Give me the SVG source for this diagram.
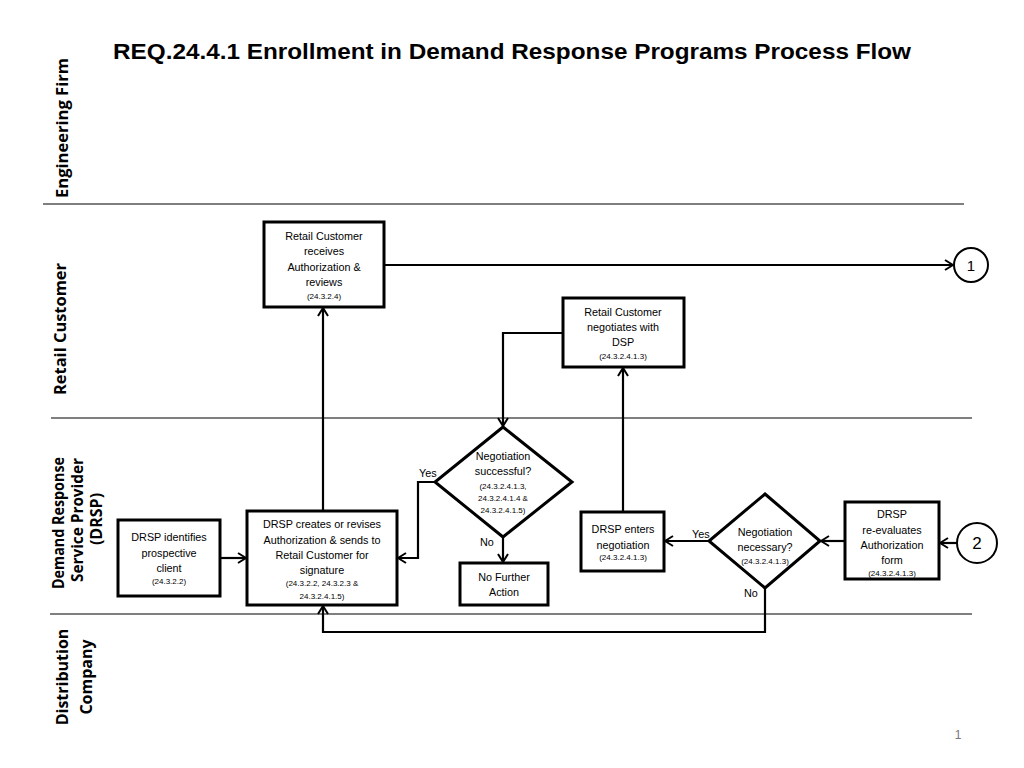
<svg xmlns="http://www.w3.org/2000/svg" width="1024" height="768" viewBox="0 0 1024 768">
<defs>
<style>
.box{fill:#fff;stroke:#000;stroke-width:3}
.lane{stroke:#555;stroke-width:1.3}
.c{fill:none;stroke:#000;stroke-width:2.2;marker-end:url(#ah)}
.t{font-family:"Liberation Sans",Arial,sans-serif;font-size:10.8px;text-anchor:middle;fill:#000}
.s{font-family:"Liberation Sans",Arial,sans-serif;font-size:8px;text-anchor:middle;fill:#000}
.lbl{font-family:"Liberation Sans",Arial,sans-serif;font-size:10.8px;fill:#000}
.ln{font-family:"Open Sans","Liberation Sans",sans-serif;font-size:16px;font-weight:bold;text-anchor:middle;fill:#000}
</style>
<marker id="ah" viewBox="0 0 12 12" refX="11" refY="6" markerWidth="12" markerHeight="12" markerUnits="userSpaceOnUse" orient="auto">
<polyline points="3,1 11,6 3,11" fill="none" stroke="#000" stroke-width="2"/>
</marker>
</defs>
<rect width="1024" height="768" fill="#fff"/>
<text x="512" y="59" font-family="Liberation Sans,Arial,sans-serif" font-size="22" font-weight="bold" text-anchor="middle" textLength="798" lengthAdjust="spacingAndGlyphs">REQ.24.4.1 Enrollment in Demand Response Programs Process Flow</text>
<g id="lanes">
<line class="lane" x1="43" y1="204" x2="964" y2="204"/>
<line class="lane" x1="51" y1="418" x2="972" y2="418"/>
<line class="lane" x1="50" y1="614" x2="972" y2="614"/>
<text class="ln" transform="translate(68,128) rotate(-90)" textLength="140" lengthAdjust="spacingAndGlyphs">Engineering Firm</text>
<text class="ln" transform="translate(66,329) rotate(-90)" textLength="132" lengthAdjust="spacingAndGlyphs">Retail Customer</text>
<text class="ln" transform="translate(64,523) rotate(-90)" textLength="132" lengthAdjust="spacingAndGlyphs">Demand Response</text>
<text class="ln" transform="translate(83,520) rotate(-90)" textLength="124" lengthAdjust="spacingAndGlyphs">Service Provider</text>
<text class="ln" transform="translate(102,519) rotate(-90)">(DRSP)</text>
<text class="ln" transform="translate(68,677) rotate(-90)">Distribution</text>
<text class="ln" transform="translate(92,677) rotate(-90)">Company</text>
</g>
<g id="connectors">
<path class="c" d="M323,511 V308"/>
<path class="c" d="M384,265 H953"/>
<path class="c" d="M563,333 H503 V426"/>
<path class="c" d="M435,482 H418 V558 H398"/>
<path class="c" d="M503,537 V562"/>
<path class="c" d="M220,558 H246"/>
<path class="c" d="M623,512 V368"/>
<path class="c" d="M709,541 H665"/>
<path class="c" d="M845,541 H821"/>
<path class="c" d="M957,543 H940"/>
<path class="c" d="M765,588 V632 H323 V606"/>
<text class="lbl" x="419" y="477">Yes</text>
<text class="lbl" x="480" y="546">No</text>
<text class="lbl" x="692" y="538">Yes</text>
<text class="lbl" x="744" y="597">No</text>
</g>
<g id="n_rc_receives">
<rect class="box" x="264" y="222" width="120" height="85"/>
<text class="t" x="324" y="240">Retail Customer</text>
<text class="t" x="324" y="255">receives</text>
<text class="t" x="324" y="271">Authorization &amp;</text>
<text class="t" x="324" y="286">reviews</text>
<text class="s" x="324" y="299">(24.3.2.4)</text>
</g>
<g id="n_rc_negotiates">
<rect class="box" x="563" y="298" width="121" height="69"/>
<text class="t" x="623" y="316">Retail Customer</text>
<text class="t" x="623" y="331">negotiates with</text>
<text class="t" x="623" y="346">DSP</text>
<text class="s" x="623" y="359">(24.3.2.4.1.3)</text>
</g>
<g id="n_neg_success">
<polygon class="box" points="503,427 572,482 503,537 435,482"/>
<text class="t" x="503" y="460">Negotiation</text>
<text class="t" x="503" y="475">successful?</text>
<text class="s" x="503" y="489">(24.3.2.4.1.3,</text>
<text class="s" x="503" y="501">24.3.2.4.1.4 &amp;</text>
<text class="s" x="503" y="513">24.3.2.4.1.5)</text>
</g>
<g id="n_no_further">
<rect class="box" x="460" y="563" width="88" height="42"/>
<text class="t" x="504" y="581">No Further</text>
<text class="t" x="504" y="596">Action</text>
</g>
<g id="n_drsp_identifies">
<rect class="box" x="118" y="520" width="102" height="76"/>
<text class="t" x="169" y="541">DRSP identifies</text>
<text class="t" x="169" y="557">prospective</text>
<text class="t" x="169" y="572">client</text>
<text class="s" x="169" y="584">(24.3.2.2)</text>
</g>
<g id="n_drsp_creates">
<rect class="box" x="247" y="511" width="150" height="94"/>
<text class="t" x="322" y="528">DRSP creates or revises</text>
<text class="t" x="322" y="544">Authorization &amp; sends to</text>
<text class="t" x="322" y="559">Retail Customer for</text>
<text class="t" x="322" y="574">signature</text>
<text class="s" x="322" y="586">(24.3.2.2, 24.3.2.3 &amp;</text>
<text class="s" x="322" y="599">24.3.2.4.1.5)</text>
</g>
<g id="n_drsp_enters">
<rect class="box" x="581" y="512" width="83" height="59"/>
<text class="t" x="623" y="533">DRSP enters</text>
<text class="t" x="623" y="549">negotiation</text>
<text class="s" x="623" y="560">(24.3.2.4.1.3)</text>
</g>
<g id="n_neg_necessary">
<polygon class="box" points="765,494 820,541 765,588 709,541"/>
<text class="t" x="765" y="536">Negotiation</text>
<text class="t" x="765" y="551">necessary?</text>
<text class="s" x="765" y="564">(24.3.2.4.1.3)</text>
</g>
<g id="n_drsp_reeval">
<rect class="box" x="845" y="502" width="94" height="77"/>
<text class="t" x="892" y="518">DRSP</text>
<text class="t" x="892" y="534">re-evaluates</text>
<text class="t" x="892" y="549">Authorization</text>
<text class="t" x="892" y="564">form</text>
<text class="s" x="892" y="576">(24.3.2.4.1.3)</text>
</g>
<g id="n_c1">
<circle cx="971" cy="265" r="17" fill="#fff" stroke="#000" stroke-width="2"/>
<text x="971" y="271" font-family="Liberation Sans,Arial,sans-serif" font-size="15" text-anchor="middle">1</text>
</g>
<g id="n_c2">
<circle cx="977" cy="543" r="20" fill="#fff" stroke="#000" stroke-width="2"/>
<text x="977" y="549" font-family="Liberation Sans,Arial,sans-serif" font-size="17" text-anchor="middle">2</text>
</g>
<text x="958" y="739" font-family="Liberation Sans,Arial,sans-serif" font-size="12" fill="#777" text-anchor="middle">1</text>
</svg>
